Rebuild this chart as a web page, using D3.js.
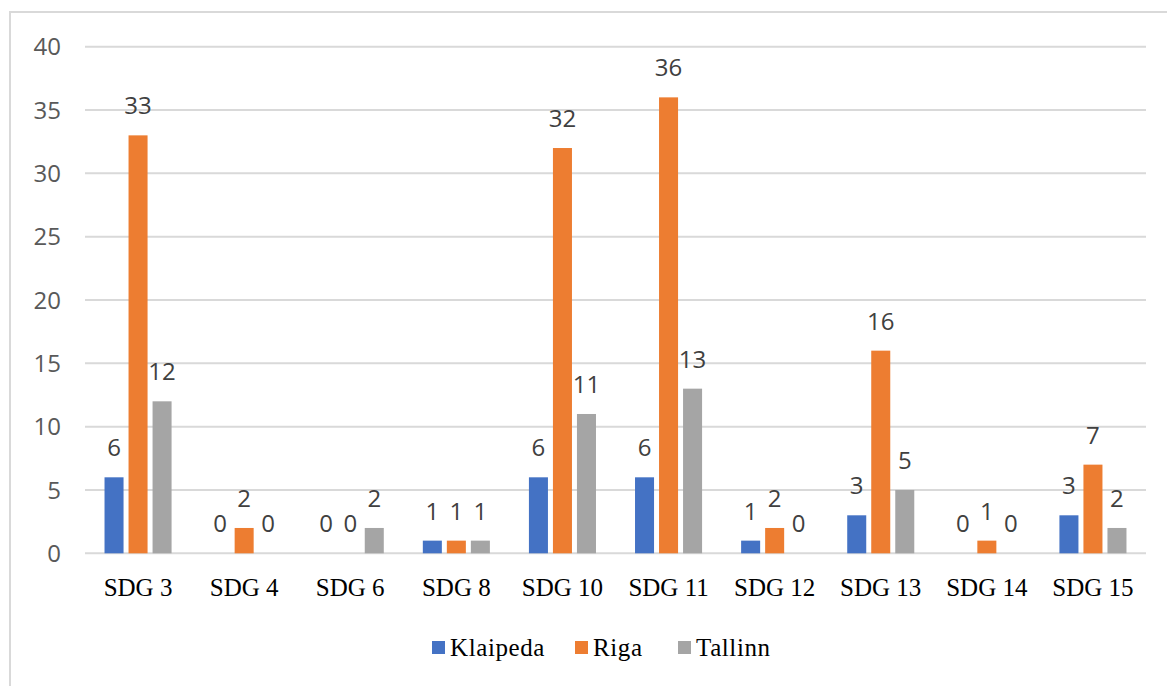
<!DOCTYPE html>
<html>
<head>
<meta charset="utf-8">
<script src="https://cdn.jsdelivr.net/npm/d3@7"></script>
<style>
  body { margin: 0; background: #fff; }
</style>
</head>
<body>
<div id="chart"></div>
<script>
// chart data
const categories = ["SDG 3", "SDG 4", "SDG 6", "SDG 8", "SDG 10", "SDG 11", "SDG 12", "SDG 13", "SDG 14", "SDG 15"];
const seriesNames = ["Klaipeda", "Riga", "Tallinn"];
const klaipeda = [6, 0, 0, 1, 6, 6, 1, 3, 0, 3];
const riga = [33, 2, 0, 1, 32, 36, 2, 16, 1, 7];
const tallinn = [12, 0, 2, 1, 11, 13, 0, 5, 0, 2];
const yTicks = [0, 5, 10, 15, 20, 25, 30, 35, 40];
const colors = ["#4472C4", "#ED7D31", "#A5A5A5"];

const values = [klaipeda, riga, tallinn];
const rows = categories.map((c, i) => ({
  cat: c,
  vals: seriesNames.map((s, j) => ({ series: s, idx: j, value: values[j][i] }))
}));

const W = 1167, H = 686;
const plot = { left: 85, right: 1146, top: 46.7, bottom: 553.3 };

const svg = d3.select("#chart")
  .append("svg")
  .attr("width", W)
  .attr("height", H);

// outer frame
svg.append("rect")
  .attr("x", 10).attr("y", 12)
  .attr("width", 1180).attr("height", 700)
  .attr("fill", "none")
  .attr("stroke", "#D9D9D9")
  .attr("stroke-width", 2);

const x0 = d3.scaleBand()
  .domain(categories)
  .range([plot.left, plot.right])
  .paddingInner(0.368)
  .paddingOuter(0.184);

const x1 = d3.scaleBand()
  .domain(seriesNames)
  .range([0, x0.bandwidth()])
  .paddingInner(0.208);

const y = d3.scaleLinear()
  .domain([0, 40])
  .range([plot.bottom, plot.top]);

// gridlines
svg.append("g")
  .selectAll("line")
  .data(yTicks)
  .enter()
  .append("line")
  .attr("x1", plot.left)
  .attr("x2", plot.right)
  .attr("y1", d => y(d))
  .attr("y2", d => y(d))
  .attr("stroke", "#D9D9D9")
  .attr("stroke-width", 2);

// y axis labels
svg.append("g")
  .selectAll("text")
  .data(yTicks)
  .enter()
  .append("text")
  .attr("x", 61)
  .attr("y", d => y(d))
  .attr("dy", "0.36em")
  .attr("text-anchor", "end")
  .attr("font-family", "'Open Sans', sans-serif")
  .attr("font-size", 24)
  .attr("fill", "#595959")
  .text(d => d);

// bars
const groups = svg.append("g")
  .selectAll("g")
  .data(rows)
  .enter()
  .append("g")
  .attr("transform", d => `translate(${x0(d.cat)},0)`);

groups.selectAll("rect")
  .data(d => d.vals)
  .enter()
  .append("rect")
  .attr("x", d => x1(d.series))
  .attr("y", d => y(d.value))
  .attr("width", x1.bandwidth())
  .attr("height", d => y(0) - y(d.value))
  .attr("fill", d => colors[d.idx]);

// value labels
groups.selectAll("text")
  .data(d => d.vals)
  .enter()
  .append("text")
  .attr("x", d => x1(d.series) + x1.bandwidth() / 2)
  .attr("y", d => y(d.value) - 21)
  .attr("text-anchor", "middle")
  .attr("font-family", "'Open Sans', sans-serif")
  .attr("font-size", 24)
  .attr("fill", "#404040")
  .text(d => d.value);

// category labels
svg.append("g")
  .selectAll("text")
  .data(categories)
  .enter()
  .append("text")
  .attr("x", d => x0(d) + x0.bandwidth() / 2)
  .attr("y", 596)
  .attr("text-anchor", "middle")
  .attr("font-family", "'Liberation Serif', 'Times New Roman', serif")
  .attr("font-size", 25)
  .attr("fill", "#000")
  .text(d => d);

// legend
const legendX = [432, 575, 678];
const legend = svg.append("g")
  .selectAll("g")
  .data(seriesNames)
  .enter()
  .append("g")
  .attr("transform", (d, i) => `translate(${legendX[i]},641)`);

legend.append("rect")
  .attr("width", 13)
  .attr("height", 13)
  .attr("fill", (d, i) => colors[i]);

legend.append("text")
  .attr("x", 18)
  .attr("y", 15)
  .attr("font-family", "'Liberation Serif', 'Times New Roman', serif")
  .attr("font-size", 25)
  .attr("letter-spacing", 0.6)
  .attr("fill", "#000")
  .text(d => d);
</script>
</body>
</html>
